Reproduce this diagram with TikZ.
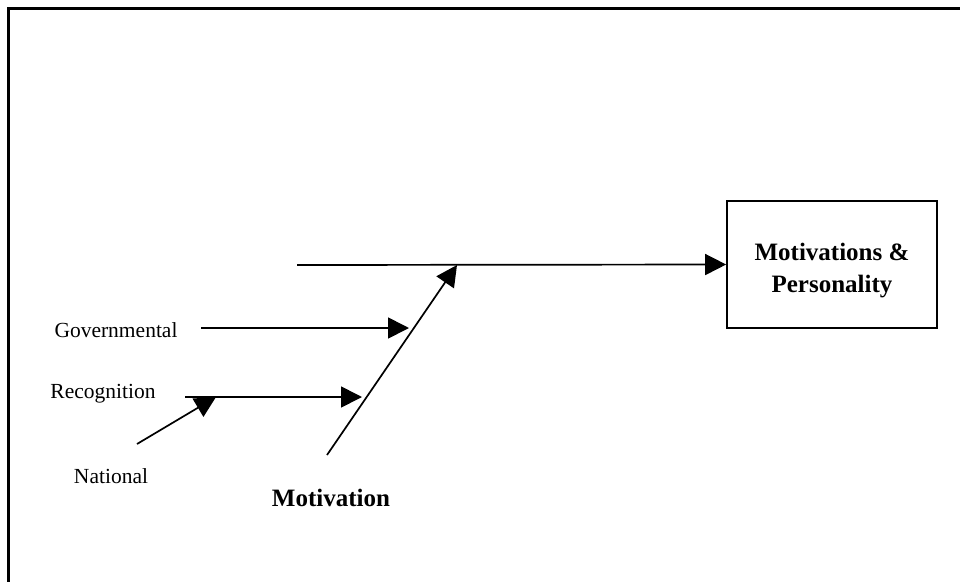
\documentclass[tikz,border=0pt]{standalone}
\usepackage{fontspec}
\setmainfont{Liberation Serif}
\usetikzlibrary{arrows.meta}
\begin{document}
\begin{tikzpicture}[x=1pt,y=-1pt,
  line/.style={line width=1.7pt},
  arr/.style={line, -{Triangle[length=21pt,width=21pt]}},
  lbl/.style={font=\fontsize{21.5}{25}\selectfont, inner sep=0pt},
  blbl/.style={font=\fontsize{25}{29}\selectfont\bfseries, inner sep=0pt},
  boxn/.style={draw, line width=1.7pt, minimum width=210pt, minimum height=127pt, inner sep=0pt},
  boxtext/.style={inner sep=0pt, align=center, font=\fontsize{25}{32}\selectfont\bfseries}]
\useasboundingbox (0,0) rectangle (960,581);
\fill[white] (0,0) rectangle (960,581);
\draw[line width=3pt] (8.5,590) -- (8.5,8.5) -- (965,8.5);

\node[boxn] (box) at (832,264.5) {};
\node[boxtext] (boxlbl) at (832,271) {Motivations \&\\Personality};

\coordinate (spineS) at (297,265);
\coordinate (head) at (457,265);
\coordinate (diagS) at (327,455);
\coordinate (govS) at (201,328);
\coordinate (govT) at (409,328);
\coordinate (recS) at (185,397);
\coordinate (recT) at (362,397);
\coordinate (natS) at (137,444);
\coordinate (natT) at (216,397);

\draw[arr] (spineS) -- (box.west);
\draw[arr] (diagS) -- (head);
\draw[arr] (govS) -- (govT);
\draw[arr] (recS) -- (recT);
\draw[arr] (natS) -- (natT);

\node[lbl] (gov) at (116,330) {Governmental};
\node[lbl] (rec) at (103,394) {Recognition};
\node[lbl] (nat) at (111,476) {National};
\node[blbl] (mot) at (331,498) {Motivation};
\end{tikzpicture}
\end{document}
